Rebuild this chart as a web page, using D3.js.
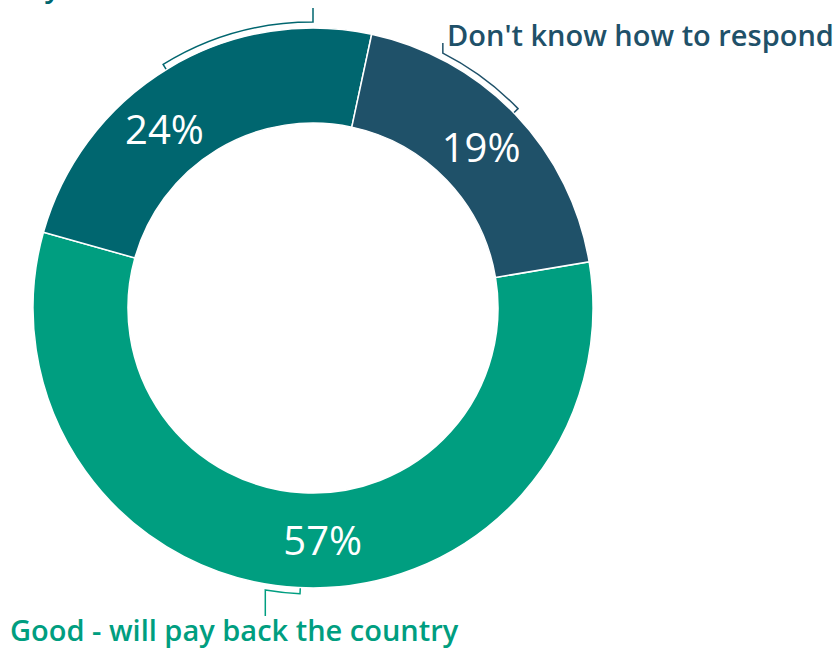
<!DOCTYPE html>
<html>
<head>
<meta charset="utf-8">
<script src="https://cdn.jsdelivr.net/npm/d3@7/dist/d3.min.js"></script>
<style>
  html, body { margin: 0; padding: 0; background: #ffffff; }
  svg { display: block; }
  text { font-family: "Open Sans", "Noto Sans", sans-serif; }
</style>
</head>
<body>
<svg id="chart" width="838" height="648"></svg>
<script>
// Survey answers, shares in percent
const categories = ["Good - will pay back the country", "Bad - will not", "Don't know how to respond"];
const labelLines = [["Good - will pay back the country"], ["Bad - will not", "Pay back"], ["Don't know how to respond"]];
const values = [57, 24, 19];
const colors = ["#009e80", "#00666f", "#1f5169"];

const W = 838, H = 648;
const cx = 313, cy = 308;
const rOuter = 280, rInner = 185;
const deg = Math.PI / 180;

const svg = d3.select("#chart");
const g = svg.append("g").attr("transform", `translate(${cx},${cy})`);

const start = 80.5 * deg;
const pie = d3.pie().sort(null).value(d => d).startAngle(start).endAngle(start + 2 * Math.PI);
const arcs = pie(values);

const arc = d3.arc().innerRadius(rInner).outerRadius(rOuter);

g.selectAll("path.slice")
  .data(arcs)
  .join("path")
  .attr("class", "slice")
  .attr("d", arc)
  .attr("fill", (d, i) => colors[i])
  .attr("stroke", "#ffffff")
  .attr("stroke-width", 1.5);

// value labels, nudged along the ring
const labelShift = [-5.5 * deg, -8.6 * deg, 0];
g.selectAll("text.value")
  .data(arcs)
  .join("text")
  .attr("class", "value")
  .attr("transform", (d, i) => {
    const a = (d.startAngle + d.endAngle) / 2 + labelShift[i];
    const r = (rInner + rOuter) / 2;
    return `translate(${r * Math.sin(a)},${-r * Math.cos(a)})`;
  })
  .attr("text-anchor", "middle")
  .attr("dy", "0.36em")
  .attr("fill", "#ffffff")
  .attr("font-size", 40)
  .attr("font-weight", 500)
  .text(d => d.data + "%");

// bracket callouts hugging the outer edge
const rBracket = 286, rTick = 280.5;
const pt = (r, a) => [r * Math.sin(a), -r * Math.cos(a)];
const brackets = [
  { from: 189.6, to: 182.6, leaderY: 616 },   // leader at "from" end
  { from: 360.0, to: 328.4, leaderY: 8 },
  { from: 27.0, to: 45.8, leaderY: 43 }
];
brackets.forEach((b, i) => {
  const a0 = b.from * deg, a1 = b.to * deg;
  const p0 = pt(rBracket, a0);
  const t1 = pt(rTick, a1);
  const path = d3.path();
  path.moveTo(p0[0], b.leaderY - cy);
  path.lineTo(p0[0], p0[1]);
  // d3.path measures angles from the x-axis
  const s0 = a0 - Math.PI / 2, s1 = a1 - Math.PI / 2;
  path.arc(0, 0, rBracket, s0, s1, a1 < a0);
  path.lineTo(t1[0], t1[1]);
  g.append("path")
    .attr("d", path.toString())
    .attr("fill", "none")
    .attr("stroke", colors[i])
    .attr("stroke-width", 1.5);
});

// category labels
const labelPos = [
  { x: 10, y: 641 },
  { x: 10, y: -3 },
  { x: 447, y: 46 }
];
labelLines.forEach((lines, i) => {
  const t = svg.append("text")
    .attr("x", labelPos[i].x)
    .attr("y", labelPos[i].y - (lines.length - 1) * 37)
    .attr("fill", colors[i])
    .attr("font-size", 29)
    .attr("font-weight", 600);
  lines.forEach((ln, j) => {
    t.append("tspan").attr("x", labelPos[i].x).attr("dy", j === 0 ? 0 : 37).text(ln);
  });
});
</script>
</body>
</html>
